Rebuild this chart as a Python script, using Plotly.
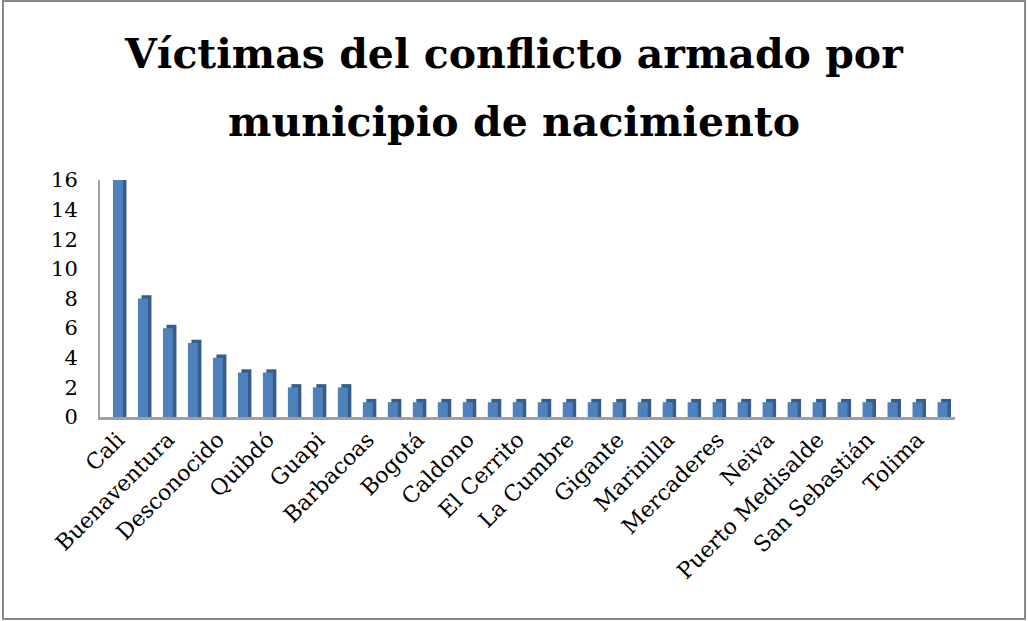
import plotly.graph_objects as go

# Data
values = [16, 8, 6, 5, 4, 3, 3, 2, 2, 2] + [1] * 24
shown_labels = ["Cali", "Buenaventura", "Desconocido", "Quibdó", "Guapi", "Barbacoas",
                "Bogotá", "Caldono", "El Cerrito", "La Cumbre", "Gigante", "Marinilla",
                "Mercaderes", "Neiva", "Puerto Medisalde", "San Sebastián", "Tolima"]
y_ticks = [0, 2, 4, 6, 8, 10, 12, 14, 16]
title_lines = ["Víctimas del conflicto armado por", "municipio de nacimiento"]

positions = list(range(len(values)))
label_positions = positions[::2]

FONT = "DejaVu Serif"
depth = 0.22

L, R, T, B = 100, 73, 180, 204
W, H = 1028, 621
pw, ph = W - L - R, H - T - B


def px_x(px):
    return (px - L) / pw


def px_y(py):
    return (H - B - py) / ph


fig = go.Figure()
# side (depth) face
fig.add_trace(go.Bar(
    x=positions, y=[v + depth for v in values], width=0.4, offset=-0.06,
    marker=dict(color="#385d8a", line=dict(width=0)), hoverinfo="skip"))
# front face
fig.add_trace(go.Bar(
    x=positions, y=values, width=0.4, offset=-0.2,
    marker=dict(color="#4f81bd", line=dict(width=0))))

annotations = []
for line, cy in zip(title_lines, [54, 122]):
    annotations.append(dict(text=f"<b>{line}</b>", xref="paper", yref="paper",
                            x=px_x(514), y=px_y(cy), xanchor="center", yanchor="middle",
                            showarrow=False,
                            font=dict(family=FONT, size=41, color="black")))

fig.update_layout(
    width=W, height=H, barmode="overlay", showlegend=False,
    paper_bgcolor="white", plot_bgcolor="white",
    margin=dict(l=L, r=R, t=T, b=B),
    font=dict(family=FONT, color="black"),
    annotations=annotations,
    xaxis=dict(range=[-0.72, 33.5], tickvals=label_positions, ticktext=shown_labels,
               tickangle=-45, tickfont=dict(family=FONT, size=22, color="black"),
               showgrid=False, zeroline=False, showline=True, linecolor="#a0a0a0",
               linewidth=3, ticks="", ticklabelstandoff=-2),
    yaxis=dict(range=[0, 16], tickvals=y_ticks, tickfont=dict(family=FONT, size=21, color="black"),
               showgrid=False, zeroline=False, showline=True, linecolor="#a0a0a0",
               linewidth=2, ticks="", ticklabelstandoff=16),
    shapes=[dict(type="rect", xref="paper", yref="paper", x0=px_x(3), x1=px_x(1025),
                 y0=px_y(619), y1=px_y(1), line=dict(color="#888888", width=2))],
)

fig.write_html("out.html")
